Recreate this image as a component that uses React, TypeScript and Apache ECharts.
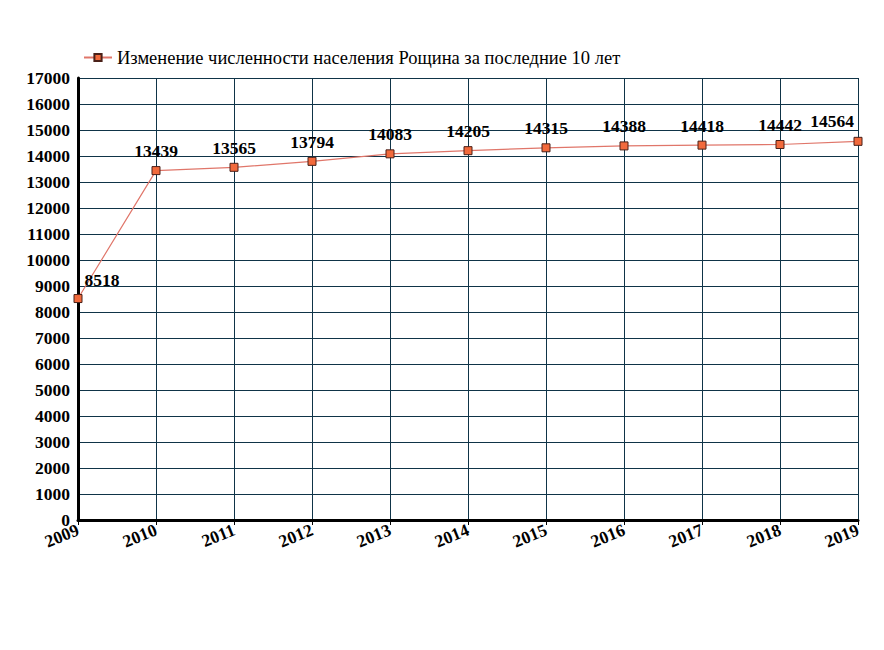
import React, { useEffect, useRef } from "react";
import * as echarts from "echarts";

const years = ["2009", "2010", "2011", "2012", "2013", "2014", "2015", "2016", "2017", "2018", "2019"];
const population = [8518, 13439, 13565, 13794, 14083, 14205, 14315, 14388, 14418, 14442, 14564];
const seriesName = "Изменение численности населения Рощина за последние 10 лет";

const FONT = "'Liberation Serif', 'Times New Roman', serif";

export default function App() {
  const ref = useRef<HTMLDivElement>(null);
  useEffect(() => {
    if (!ref.current) return;
    const chart = echarts.init(ref.current, null, { renderer: "svg" });
    const data = population.map((v, i) => {
      const item: any = { value: v };
      if (i === 0) item.label = { offset: [24, 1] };
      if (i === population.length - 1) item.label = { offset: [-26, -1] };
      return item;
    });
    chart.setOption({
      animation: false,
      backgroundColor: "#ffffff",
      legend: {
        left: 78,
        top: 43,
        itemWidth: 28,
        itemHeight: 9,
        itemGap: 8,
        textStyle: { fontFamily: FONT, fontSize: 18.5, color: "#000" },
        data: [seriesName],
      },
      grid: { left: 78, right: 26, top: 78, bottom: 130, containLabel: false },
      xAxis: {
        type: "category",
        data: years,
        boundaryGap: false,
        axisLine: { show: true, lineStyle: { color: "#000", width: 3 } },
        axisTick: { show: true, length: 5, lineStyle: { color: "#000", width: 1 } },
        axisLabel: {
          rotate: 22,
          margin: 9,
          fontFamily: FONT,
          fontSize: 17.5,
          fontWeight: "bold",
          color: "#000",
        },
        splitLine: { show: true, lineStyle: { color: "#0f3448", width: 1 } },
      },
      yAxis: {
        type: "value",
        min: 0,
        max: 17000,
        interval: 1000,
        axisLine: { show: true, lineStyle: { color: "#000", width: 3 } },
        axisTick: { show: false },
        axisLabel: {
          margin: 8,
          fontFamily: FONT,
          fontSize: 17.5,
          fontWeight: "bold",
          color: "#000",
          formatter: (v: number) => String(v),
        },
        splitLine: { show: true, lineStyle: { color: "#0f3448", width: 1 } },
      },
      series: [
        {
          name: seriesName,
          type: "line",
          data,
          symbol: "rect",
          symbolSize: 8,
          itemStyle: { color: "#f26a3c", borderColor: "#4a2018", borderWidth: 1 },
          lineStyle: { color: "#e0766a", width: 1.2 },
          label: {
            show: true,
            position: "top",
            distance: 6,
            fontFamily: FONT,
            fontSize: 17.5,
            fontWeight: "bold",
            color: "#000",
          },
        },
      ],
    });
    return () => chart.dispose();
  }, []);
  return <div ref={ref} style={{ width: 884, height: 650, position: "absolute", left: 0, top: 0 }} />;
}
